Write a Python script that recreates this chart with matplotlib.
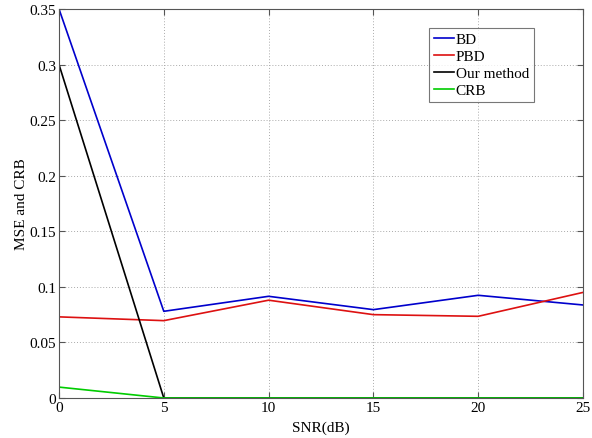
import matplotlib
matplotlib.use("Agg")
from matplotlib import pyplot as plt

snr = [0, 5, 10, 15, 20, 25]
bd = [0.35, 0.078, 0.0915, 0.0795, 0.0924, 0.0837]
pbd = [0.073, 0.0696, 0.088, 0.075, 0.0735, 0.095]
ours = [0.30, 0.0, 0.0, 0.0, 0.0, 0.0]
crb = [0.0098, 0.0, 0.0, 0.0, 0.0, 0.0]

plt.rcParams["font.family"] = ["Liberation Serif", "DejaVu Serif"]
plt.rcParams["font.size"] = 11

fig = plt.figure(figsize=(5.92, 4.39), dpi=100)
ax = fig.add_axes([59 / 592, 1 - 399 / 439, (583 - 59) / 592, (399 - 10) / 439])

ax.plot(snr, bd, color="#0000cc", lw=1.2, label="BD")
ax.plot(snr, pbd, color="#dd1111", lw=1.2, label="PBD")
ax.plot(snr, ours, color="black", lw=1.2, label="Our method")
ax.plot(snr, crb, color="#00cc00", lw=1.2, label="CRB")

ax.set_xlim(0, 25)
ax.set_ylim(0, 0.35)
ax.set_xticks([0, 5, 10, 15, 20, 25])
ax.set_yticks([0, 0.05, 0.1, 0.15, 0.2, 0.25, 0.3, 0.35])
ax.set_yticklabels(["0", "0.05", "0.1", "0.15", "0.2", "0.25", "0.3", "0.35"])
ax.grid(True, linestyle=(0, (1, 2)), color="#aaaaaa", lw=0.7)
ax.tick_params(direction="in", top=True, right=True, length=4, color="#555555", pad=2)
for s in ax.spines.values():
    s.set_color("#555555")
    s.set_linewidth(0.8)

ax.set_xlabel("SNR(dB)", labelpad=5)
ax.set_ylabel("MSE and CRB", labelpad=1)

leg = ax.legend(loc="upper left", bbox_to_anchor=(370 / 524, 1 - 19 / 389),
                fancybox=False, handlelength=1.35, handletextpad=0.1,
                borderpad=0.3, labelspacing=0.22, borderaxespad=0)
leg.get_frame().set_edgecolor("#555555")
leg.get_frame().set_linewidth(0.8)

fig.savefig("out.png", dpi=100)
